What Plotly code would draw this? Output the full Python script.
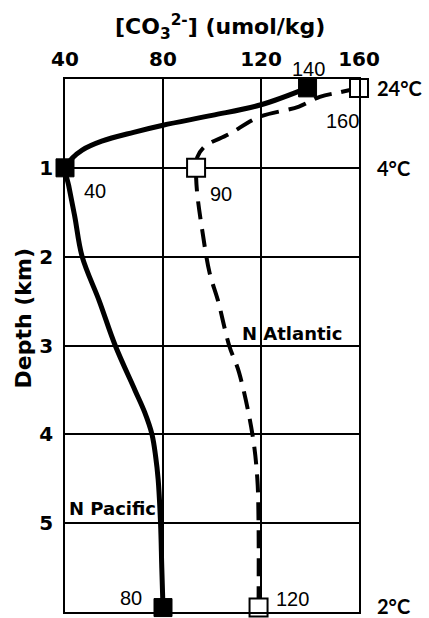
import plotly.graph_objects as go

# N Pacific profile (solid)
pac_co3 = [139, 120, 100, 80, 68, 55, 47, 43, 41, 40, 41.5, 44, 47, 54, 60.5, 68.5, 72.5, 75.5, 77, 78, 79, 79.5, 80]
pac_depth = [0.1, 0.29, 0.41, 0.52, 0.6, 0.7, 0.8, 0.89, 0.96, 1.0, 1.2, 1.55, 2.0, 2.5, 3.0, 3.5, 3.75, 4.0, 4.25, 4.5, 5.0, 5.5, 5.95]

# N Atlantic profile (dashed)
atl_co3 = [160, 152, 144, 135.5, 119, 107, 97, 94, 93.5, 93.5, 94, 96, 99, 102.5, 107, 111, 116.5, 118.5, 119, 119]
atl_depth = [0.1, 0.15, 0.2, 0.31, 0.43, 0.62, 0.76, 0.88, 1.0, 1.1, 1.3, 1.7, 2.18, 2.5, 3.0, 3.3, 4.0, 4.5, 5.0, 5.95]

# labelled points
pac_pt_co3 = [139, 40, 80]
pac_pt_depth = [0.1, 1.0, 5.95]
pac_pt_text = ["140", "40", "80"]
atl_pt_co3 = [160, 93.5, 119]
atl_pt_depth = [0.1, 1.0, 5.95]
atl_pt_text = ["160", "90", "120"]

temp_labels = ["24°C", "4°C", "2°C"]
temp_depth = [0.1, 1.0, 5.95]

x_ticks = [40, 80, 120, 160]
y_ticks = [1, 2, 3, 4, 5, 6]

BOLD = "DejaVu Sans"
fig = go.Figure()
fig.add_trace(go.Scatter(x=pac_co3, y=pac_depth, mode="lines", line=dict(color="black", width=5, shape="spline"),
                         cliponaxis=False, showlegend=False))
fig.add_trace(go.Scatter(x=atl_co3, y=atl_depth, mode="lines",
                         line=dict(color="black", width=4, shape="spline", dash="18px,10px"),
                         cliponaxis=False, showlegend=False))
fig.add_trace(go.Scatter(x=pac_pt_co3, y=pac_pt_depth, mode="markers",
                         marker=dict(symbol="square", size=18, color="black", line=dict(color="black", width=1)),
                         cliponaxis=False, showlegend=False))
fig.add_trace(go.Scatter(x=atl_pt_co3, y=atl_pt_depth, mode="markers",
                         marker=dict(symbol="square", size=18, color="white", line=dict(color="black", width=2)),
                         cliponaxis=False, showlegend=False))

# point value labels
offsets = {"140": (1, -19), "40": (30, 23), "80": (-32, -10), "160": (-17, 33), "90": (25, 26), "120": (34, -9)}
for xs, ys, ts in [(pac_pt_co3, pac_pt_depth, pac_pt_text), (atl_pt_co3, atl_pt_depth, atl_pt_text)]:
    for x, y, t in zip(xs, ys, ts):
        dx, dy = offsets[t]
        fig.add_annotation(x=x, y=y, text=t, showarrow=False, xshift=dx, yshift=-dy,
                           font=dict(family="Liberation Sans", size=20, color="black"))

temp_dy = [0, 0, 2]
for t, d, dy in zip(temp_labels, temp_depth, temp_dy):
    fig.add_annotation(x=160, y=d, text="<b>" + t + "</b>", showarrow=False, xanchor="left", xshift=16, yshift=dy,
                       font=dict(family="Lato", size=20, color="black"))

fig.add_annotation(x=119, y=2.86, text="<b>N Atlantic</b>", showarrow=False, xanchor="left", xshift=-19,
                   font=dict(family=BOLD, size=18, color="black"))
fig.add_annotation(x=40, y=4.84, text="<b>N Pacific</b>", showarrow=False, xanchor="left", xshift=2,
                   font=dict(family=BOLD, size=18, color="black"))

fig.add_annotation(xref="paper", yref="paper", x=0.5, y=1, yshift=52, xshift=8, yanchor="middle", xanchor="center",
                   text="<b>[CO<sub>3</sub><sup>2-</sup>] (umol/kg)</b>", showarrow=False,
                   font=dict(family=BOLD, size=22, color="black"))
fig.add_annotation(xref="paper", yref="paper", x=0, xshift=-42, y=0.5, yshift=27, textangle=-90,
                   xanchor="center", yanchor="middle",
                   text="<b>Depth (km)</b>", showarrow=False,
                   font=dict(family=BOLD, size=22, color="black"))

axis_common = dict(showgrid=True, gridcolor="black", gridwidth=1.5, showline=True, linecolor="black",
                   linewidth=1.5, mirror=True, zeroline=False, ticks="", automargin=False,
                   tickfont=dict(family=BOLD, size=20, color="black"))
fig.update_xaxes(range=[40, 160], side="top", tickvals=x_ticks, ticktext=["<b>%d</b>" % v for v in x_ticks],
                 ticklabelstandoff=3, **axis_common)
fig.update_yaxes(range=[6, 0], tickvals=y_ticks, ticktext=["<b>%d</b>" % v for v in y_ticks],
                 ticklabelstandoff=6, **axis_common)

fig.update_layout(width=429, height=618, margin=dict(l=65, r=70, t=79, b=6),
                  plot_bgcolor="white", paper_bgcolor="white", showlegend=False)

fig.write_html("out.html", config={"displayModeBar": False},
               post_script="document.body.style.margin='0px';")
